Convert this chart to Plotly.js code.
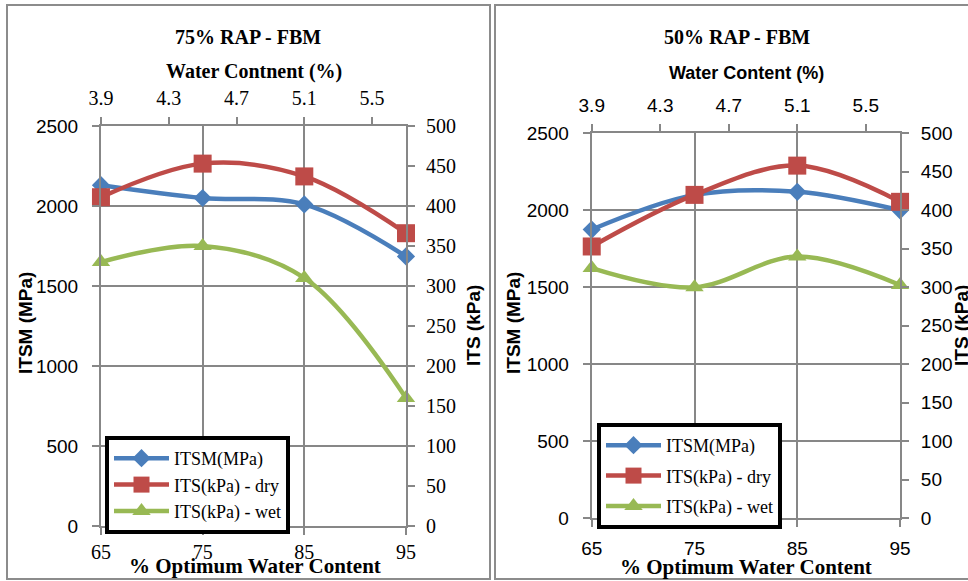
<!DOCTYPE html>
<html>
<head>
<meta charset="utf-8">
<script src="https://cdn.plot.ly/plotly-3.0.1.min.js"></script>
<style>
  html, body { margin: 0; padding: 0; background: #fff; }
  #chart { width: 968px; height: 581px; }
</style>
</head>
<body>
<div id="chart"></div>
<script>
// x values: % of optimum water content and matching water content (%)
var optimumPct = [65, 75, 85, 95];
var waterContent = [3.9, 4.5, 5.1, 5.7];

// 75% RAP - FBM
var itsm75 = [2130, 2050, 2010, 1685];
var itsDry75 = [411, 453, 437, 366];
var itsWet75 = [330, 350, 310, 160];

// 50% RAP - FBM
var itsm50 = [1875, 2100, 2120, 2000];
var itsDry50 = [353, 420, 458, 411];
var itsWet50 = [325, 300, 340, 303];

var seriesNames = ['ITSM(MPa)', 'ITS(kPa) - dry', 'ITS(kPa) - wet'];

var SERIF = 'Liberation Serif, Times New Roman, serif';
var SANS = 'Liberation Sans, Arial, sans-serif';
var GRID = '#878787';
var BLUE = '#4a7ebb', RED = '#be4b48', GREEN = '#98b954';

function line(name, x, y, xa, ya, color, symbol, size, legend, group) {
	return {
		type: 'scatter', mode: 'lines+markers', name: name,
		x: x, y: y, xaxis: xa, yaxis: ya,
		line: {color: color, width: 4.5, shape: 'spline', smoothing: 1},
		marker: {color: color, symbol: symbol, size: size},
		cliponaxis: false, legend: legend, legendgroup: group
	};
}

var data = [
	line(seriesNames[0], optimumPct, itsm75, 'x', 'y', BLUE, 'diamond', 14, 'legend', 'a'),
	line(seriesNames[1], waterContent, itsDry75, 'x2', 'y2', RED, 'square', 18, 'legend', 'b'),
	line(seriesNames[2], waterContent, itsWet75, 'x2', 'y2', GREEN, 'triangle-up', 16, 'legend', 'c'),
	line(seriesNames[0], optimumPct, itsm50, 'x3', 'y3', BLUE, 'diamond', 14, 'legend2', 'a'),
	line(seriesNames[1], waterContent, itsDry50, 'x4', 'y4', RED, 'square', 18, 'legend2', 'b'),
	line(seriesNames[2], waterContent, itsWet50, 'x4', 'y4', GREEN, 'triangle-up', 16, 'legend2', 'c')
];

function axis(extra, font) {
	var a = {
		showline: true, linecolor: GRID, linewidth: 2,
		showgrid: false, gridcolor: GRID, gridwidth: 2, zeroline: false,
		ticks: 'outside', ticklen: 7, tickwidth: 2, tickcolor: GRID,
		tickfont: font, fixedrange: true
	};
	for (var k in extra) a[k] = extra[k];
	return a;
}

var serifTicks = {family: SERIF, size: 20, color: '#000'};
var sansTicks = {family: SANS, size: 19, color: '#000'};

// left chart domain / right chart domain (paper fractions)
var domL = [0.1043, 0.4194], domLy = [0.0947, 0.7831];
var domR = [0.6113, 0.9298], domRy = [0.1079, 0.7706];

function ann(text, x, y, font, size, angle) {
	return {
		text: text, x: x, y: y, xref: 'paper', yref: 'paper',
		xanchor: 'center', yanchor: 'middle', showarrow: false,
		textangle: angle || 0, font: {family: font, size: size, color: '#000'}
	};
}

var layout = {
	width: 968, height: 581,
	margin: {l: 0, r: 0, t: 0, b: 0},
	paper_bgcolor: '#fff', plot_bgcolor: '#fff',
	showlegend: true,

	xaxis: axis({domain: domL, anchor: 'y', range: [65, 95], tick0: 65, dtick: 10,
		showgrid: true, ticklabelstandoff: 0}, serifTicks),
	xaxis2: axis({overlaying: 'x', side: 'top', anchor: 'y', range: [3.9, 5.7],
		tick0: 3.9, dtick: 0.4, ticklabelstandoff: 4}, serifTicks),
	yaxis: axis({domain: domLy, anchor: 'x', range: [0, 2500], dtick: 500,
		showgrid: true, ticklabelstandoff: 10}, sansTicks),
	yaxis2: axis({overlaying: 'y', side: 'right', anchor: 'x', range: [0, 500],
		dtick: 50, ticklabelstandoff: 7}, serifTicks),

	xaxis3: axis({domain: domR, anchor: 'y3', range: [65, 95], tick0: 65, dtick: 10,
		showgrid: true, ticklabelstandoff: 5}, sansTicks),
	xaxis4: axis({overlaying: 'x3', side: 'top', anchor: 'y3', range: [3.9, 5.7],
		tick0: 3.9, dtick: 0.4, ticklabelstandoff: 5}, sansTicks),
	yaxis3: axis({domain: domRy, anchor: 'x3', range: [0, 2500], dtick: 500,
		showgrid: true, ticklabelstandoff: 10}, sansTicks),
	yaxis4: axis({overlaying: 'y3', side: 'right', anchor: 'x3', range: [0, 500],
		dtick: 50, ticklabelstandoff: 8}, sansTicks),

	legend: {
		x: 105 / 968, y: 1 - 436 / 581, xanchor: 'left', yanchor: 'top',
		bgcolor: '#fff', bordercolor: '#000', borderwidth: 4,
		font: {family: SERIF, size: 18, color: '#000'},
		itemwidth: 55, traceorder: 'grouped', tracegroupgap: 0
	},
	legend2: {
		x: 597 / 968, y: 1 - 423 / 581, xanchor: 'left', yanchor: 'top',
		bgcolor: '#fff', bordercolor: '#000', borderwidth: 4,
		font: {family: SERIF, size: 18, color: '#000'},
		itemwidth: 55, traceorder: 'grouped', tracegroupgap: 4
	},

	annotations: [
		ann('<b>75% RAP - FBM</b>', 248 / 968, 1 - 37 / 581, SERIF, 20),
		ann('<b>Water Contnent (%)</b>', 254 / 968, 1 - 71 / 581, SERIF, 20),
		ann('<b>% Optimum Water Content</b>', 255 / 968, 1 - 566 / 581, SERIF, 21),
		ann('<b>ITSM (MPa)</b>', 25 / 968, 1 - 323 / 581, SANS, 19, -90),
		ann('<b>ITS (kPa)</b>', 473 / 968, 1 - 326 / 581, SANS, 19, -90),

		ann('<b>50% RAP - FBM</b>', 737 / 968, 1 - 37 / 581, SERIF, 20),
		ann('<b>Water Content (%)</b>', 746 / 968, 1 - 73 / 581, SANS, 18),
		ann('<b>% Optimum Water Content</b>', 746 / 968, 1 - 567 / 581, SERIF, 21),
		ann('<b>ITSM (MPa)</b>', 513 / 968, 1 - 323 / 581, SANS, 19, -90),
		ann('<b>ITS (kPa)</b>', 961 / 968, 1 - 326 / 581, SANS, 19, -90)
	],

	shapes: [
		{type: 'rect', xref: 'paper', yref: 'paper', layer: 'below',
			x0: 7 / 968, x1: 490 / 968, y0: 1 - 579 / 581, y1: 1 - 5 / 581,
			line: {color: '#8c8c8c', width: 2}},
		{type: 'rect', xref: 'paper', yref: 'paper', layer: 'below',
			x0: 495 / 968, x1: 1.05, y0: 1 - 579 / 581, y1: 1 - 5 / 581,
			line: {color: '#8c8c8c', width: 2}}
	]
};

var config = {staticPlot: true, displaylogo: false};

Plotly.newPlot('chart', data, layout, config);
</script>
</body>
</html>
